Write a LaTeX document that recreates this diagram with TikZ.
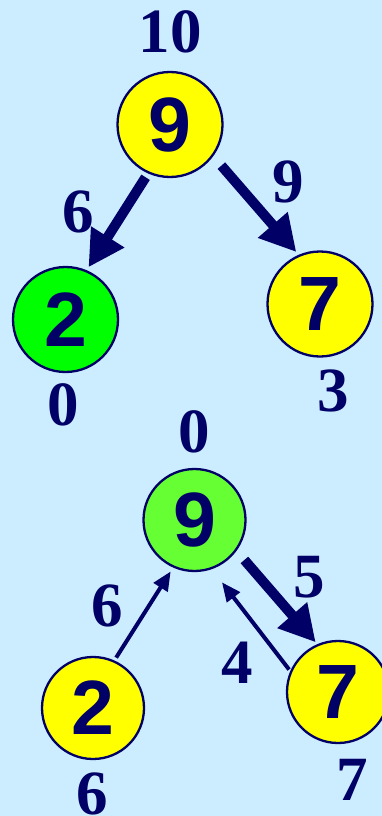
\documentclass[tikz,border=0pt]{standalone}
\usepackage{fontspec}
\setmainfont{Liberation Serif}
\newfontfamily\arialf{Liberation Sans}
\usetikzlibrary{arrows.meta}
\definecolor{bgblue}{RGB}{204,236,255}
\definecolor{navy}{RGB}{0,0,102}
\definecolor{ylw}{RGB}{255,255,0}
\definecolor{grnA}{RGB}{0,255,0}
\definecolor{grnB}{RGB}{102,255,51}
\tikzset{
  vtx/.style={circle, draw=navy, line width=2.3pt, inner sep=0pt, outer sep=0pt,
    text=navy, font=\arialf\bfseries\fontsize{77}{77}\selectfont},
  vtop/.style={vtx, minimum size=105pt},
  vbot/.style={vtx, minimum size=102pt},
  lbl/.style={inner sep=0pt, text=navy, font=\bfseries\fontsize{63}{63}\selectfont},
  bigarrow/.style={draw=navy, line width=10pt, -{Triangle[length=36pt,width=37pt]}},
  thinarrow/.style={draw=navy, line width=4pt, -{Triangle[length=19pt,width=16pt]}}
}
\begin{document}
\begin{tikzpicture}[x=1pt,y=-1pt]
\fill[bgblue] (0,0) rectangle (382,816);
\useasboundingbox (0,0) rectangle (382,816);
% top tree
\node[vtop, fill=ylw] (t9) at (170,124.5) {9};
\node[vtop, fill=grnA] (t2) at (65.5,319.5) {2};
\node[vtop, fill=ylw] (t7) at (320,304) {7};
\node[lbl] (l10) at (170,32) {10};
\node[lbl] (l6a) at (78,212) {6};
\node[lbl] (l9a) at (288,182) {9};
\node[lbl] (l0a) at (63,405) {0};
\node[lbl] (l3a) at (333,391) {3};
\draw[bigarrow, shorten <=5.7pt, shorten >=4.6pt] (t9.246.9) -- (t2.67);
\draw[bigarrow, shorten <=13.6pt, shorten >=4.8pt] (t9.324.2) -- (t7.113.5);
% bottom tree
\node[vbot, fill=grnB] (b9) at (194.5,520) {9};
\node[vbot, fill=ylw] (b2) at (93,708) {2};
\node[vbot, fill=ylw] (b7) at (338,692) {7};
\node[lbl] (l0b) at (194,432) {0};
\node[lbl] (l6b) at (107,606) {6};
\node[lbl] (l5b) at (309,577) {5};
\node[lbl] (l4b) at (237,663) {4};
\node[lbl] (l6c) at (92,794) {6};
\node[lbl] (l7c) at (352,780) {7};
\draw[thinarrow, shorten <=4.5pt, shorten >=5.7pt] (b2.66.7) -- (b9.246.6);
\draw[thinarrow, shorten <=3.2pt, shorten >=17.8pt] (b7.157) -- (b9.289.1);
\draw[bigarrow, shorten <=13.2pt, shorten >=3.6pt] (b9.324.8) -- (b7.113.7);
\end{tikzpicture}
\end{document}
